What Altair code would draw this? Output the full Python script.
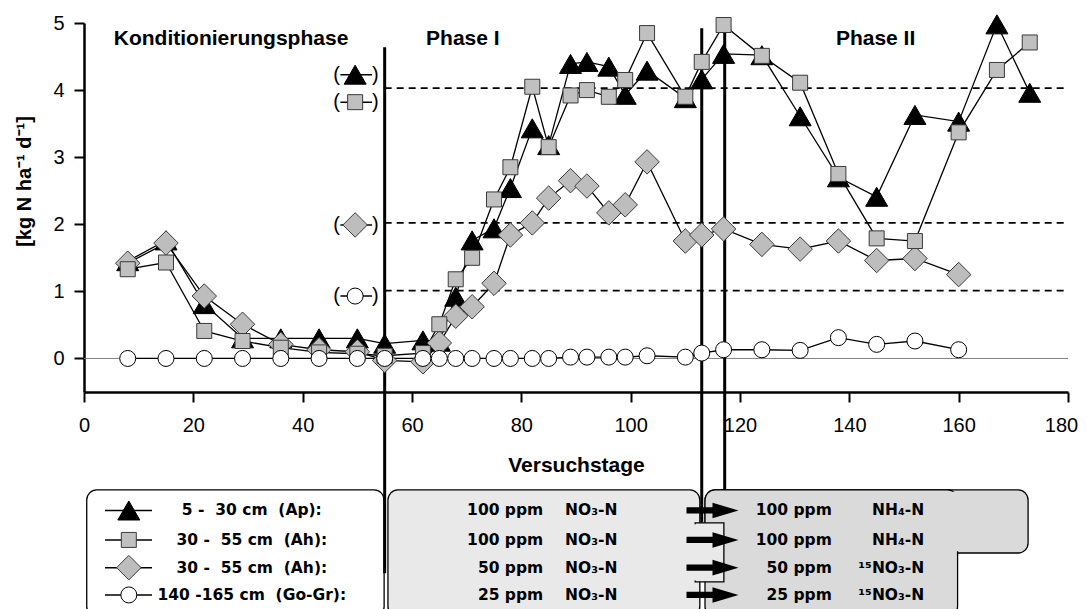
import altair as alt
import pandas as pd

# ---------------- data ----------------
days = [8, 15, 22, 29, 36, 43, 50, 55, 62, 65, 68, 71, 75, 78, 82, 85, 89, 92, 96, 99,
        103, 110, 113, 117, 124, 131, 138, 145, 152, 160, 167, 173]
ap_5_30 = [1.45, 1.76, 0.81, 0.30, 0.30, 0.30, 0.30, 0.22, 0.27, 0.25, 0.92, 1.76, 1.94, 2.54,
           3.43, 3.18, 4.39, 4.42, 4.35, 3.93, 4.29, 3.88, 4.16, 4.54, 4.52, 3.61, 2.70, 2.41,
           3.63, 3.53, 4.98, 3.96]
ah_30_55_100 = [1.33, 1.43, 0.41, 0.26, 0.16, 0.09, 0.07, 0.04, 0.08, 0.51, 1.18, 1.50, 2.37, 2.85,
                4.05, 3.15, 3.92, 4.00, 3.90, 4.15, 4.85, 3.90, 4.42, 4.97, 4.51, 4.11, 2.75, 1.79,
                1.75, 3.37, 4.30, 4.71]
ah_30_55_50 = [1.42, 1.72, 0.93, 0.51, 0.21, 0.13, 0.10, -0.03, -0.05, 0.23, 0.63, 0.77, 1.12, 1.84,
               2.02, 2.39, 2.65, 2.57, 2.17, 2.29, 2.93, 1.75, 1.84, 1.93, 1.70, 1.63, 1.75, 1.46,
               1.49, 1.25]
gogr_140_165 = [0, 0, 0, 0, 0, 0, 0, 0, 0, 0, 0, 0, 0, 0, 0, 0, 0.02, 0.02, 0.02, 0.02, 0.04, 0.02,
                0.08, 0.13, 0.13, 0.12, 0.31, 0.21, 0.26, 0.13]

series_labels = ["5 -\u00a0 30 cm\u00a0 (Ap):", "30 -\u00a0 55 cm\u00a0 (Ah):",
                 "30 -\u00a0 55 cm\u00a0 (Ah):", "140 -165 cm\u00a0 (Go-Gr):"]
phase1_ppm = ["100 ppm", "100 ppm", "50 ppm", "25 ppm"]
phase1_form = ["NO\u2083-N", "NO\u2083-N", "NO\u2083-N", "NO\u2083-N"]
phase2_ppm = ["100 ppm", "100 ppm", "50 ppm", "25 ppm"]
phase2_form = ["NH\u2084-N", "NH\u2084-N", "\u00b9\u2075NO\u2083-N", "\u00b9\u2075NO\u2083-N"]
phase_names = ["Konditionierungsphase", "Phase I", "Phase II"]
phase_change_days = [55, 113, 117.2]
target_levels = [4.03, 2.02, 1.01]
indicator_levels = [4.23, 3.82, 1.99, 0.93]

# ---------------- styles ----------------
styles = [
    dict(shape="triangle-up", size=484, fill="black", stroke="black"),
    dict(shape="square", size=225, fill="#c0c0c0", stroke="#3a3a3a"),
    dict(shape="diamond", size=600, fill="#bdbdbd", stroke="#3a3a3a"),
    dict(shape="circle", size=256, fill="white", stroke="black"),
]
series_values = [ap_5_30, ah_30_55_100, ah_30_55_50, gogr_140_165]

XS = alt.Scale(domain=[0, 180], nice=False, zero=False)
YS = alt.Scale(domain=[-0.5, 5], nice=False, zero=False)
AX = dict(grid=False, domainColor="black", domainWidth=2.5, tickColor="black", tickWidth=2,
          tickSize=10, labelFont="Liberation Sans", labelFontSize=20, labelColor="black",
          titleFont="Liberation Sans", titleFontWeight="bold", titleColor="black",
          labelOverlap=False, labelFlush=False)
XAX = alt.Axis(title="Versuchstage", values=list(range(0, 181, 20)), labelPadding=13,
               labelOffset={"condition": {"test": "datum.value == 180", "value": -7}, "value": 0},
               titleFontSize=21, titleBaseline="middle", titleY=73, **AX)
YAX = alt.Axis(title="[kg N ha\u207b\u00b9 d\u207b\u00b9]", values=[0, 1, 2, 3, 4, 5], labelPadding=10,
               titleFontSize=20, titleAngle=270, titleBaseline="middle", titleAlign="center",
               titleX=-60, titleY=158, **AX)


def X(f="day"):
    return alt.X(f + ":Q", scale=XS, axis=XAX)


def Y(f="val"):
    return alt.Y(f + ":Q", scale=YS, axis=YAX)


BOLD = dict(font="Liberation Sans", fontWeight="bold", fontSize=21, color="black")
BOX = dict(font="DejaVu Sans", fontWeight="bold", fontSize=15.5, color="black", baseline="middle")

layers = []

# bottom boxes (annotation geometry in data units)
box_rows = [-2.266, -2.705, -3.118, -3.525]
boxes = pd.DataFrame({
    "day": [0.5, 55.6], "day2": [54.9, 112.65], "val": [-1.96, -1.96], "val2": [-3.85, -3.85],
    "fill": ["white", "#e9e9e9"]})
layers.append(alt.Chart(boxes).mark_rect(stroke="black", strokeWidth=1.3, cornerRadius=10).encode(
    x=X(), x2="day2", y=Y(), y2="val2", fill=alt.Fill("fill:N", scale=None)))
box3 = pd.DataFrame({"day": [113.6, 113.6], "day2": [172.7, 159.8], "val": [-1.96, -1.96],
                     "val2": [-2.90, -3.85]})
layers.append(alt.Chart(box3).mark_rect(stroke="black", strokeWidth=1.3, cornerRadius=10,
                                        fill="#dadada").encode(x=X(), x2="day2", y=Y(), y2="val2"))
box3in = pd.DataFrame({"day": [113.85, 113.85], "day2": [172.45, 159.55], "val": [-1.985, -1.985],
                       "val2": [-2.875, -3.83]})
layers.append(alt.Chart(box3in).mark_rect(fill="#dadada", cornerRadius=9).encode(
    x=X(), x2="day2", y=Y(), y2="val2"))
notch = pd.DataFrame({"day": [111.8], "day2": [117.05], "val": [-2.45], "val2": [-3.33]})
layers.append(alt.Chart(notch).mark_rect(fill="#e9e9e9", stroke="black", strokeWidth=1.3).encode(
    x=X(), x2="day2", y=Y(), y2="val2"))
notchin = pd.DataFrame({"day": [110.9], "day2": [116.85], "val": [-2.472], "val2": [-3.308]})
layers.append(alt.Chart(notchin).mark_rect(fill="#e9e9e9").encode(
    x=X(), x2="day2", y=Y(), y2="val2"))

# baseline and target levels
base = pd.DataFrame({"day": [0], "day2": [180], "val": [0]})
layers.append(alt.Chart(base).mark_rule(color="#808080", strokeWidth=1).encode(x=X(), x2="day2", y=Y()))
dash = pd.DataFrame({"day": [55] * 3, "day2": [180] * 3, "val": target_levels})
layers.append(alt.Chart(dash).mark_rule(color="black", strokeWidth=1.7, strokeDash=[7, 5]).encode(
    x=X(), x2="day2", y=Y()))

# phase change lines
vl = pd.DataFrame({"day": phase_change_days, "val": [4.64, 4.92, 4.95], "val2": [-3.20, -2.45, -1.96]})
layers.append(alt.Chart(vl).mark_rule(color="black", strokeWidth=3).encode(x=X(), y=Y(), y2="val2"))

# series lines + points
for vals, st in zip(series_values, styles):
    df = pd.DataFrame({"day": days[:len(vals)], "val": vals})
    layers.append(alt.Chart(df).mark_line(color="black", strokeWidth=1.3).encode(x=X(), y=Y()))
for i in [0, 2, 1, 3]:
    vals, st = series_values[i], styles[i]
    df = pd.DataFrame({"day": days[:len(vals)], "val": vals})
    layers.append(alt.Chart(df).mark_point(shape=st["shape"], size=st["size"], filled=True,
                                           fill=st["fill"], stroke=st["stroke"], strokeWidth=1,
                                           opacity=1).encode(x=X(), y=Y()))

# in-plot indicators (-symbol-)
for lvl, st in zip(indicator_levels, styles):
    d = pd.DataFrame({"day": [46.9], "day2": [52.7], "val": [lvl]})
    layers.append(alt.Chart(d).mark_rule(color="black", strokeWidth=1.5).encode(x=X(), x2="day2", y=Y()))
    s = pd.DataFrame({"day": [49.6], "val": [lvl]})
    layers.append(alt.Chart(s).mark_point(shape=st["shape"], size=st["size"], filled=True,
                                          fill=st["fill"], stroke=st["stroke"], strokeWidth=1,
                                          opacity=1).encode(x=X(), y=Y()))
par = pd.DataFrame({"day": [46.2] * 4 + [53.3] * 4, "val": indicator_levels * 2,
                    "label": ["("] * 4 + [")"] * 4})
layers.append(alt.Chart(par).mark_text(font="Liberation Sans", fontSize=20, baseline="middle",
                                       color="black").encode(x=X(), y=Y(), text="label:N"))

# phase titles
ph = pd.DataFrame({"day": [26.9, 69.3, 144.8], "val": [4.76] * 3, "label": phase_names})
layers.append(alt.Chart(ph).mark_text(baseline="middle", **BOLD).encode(x=X(), y=Y(), text="label:N"))

# legend box contents
for st, r in zip(styles, box_rows):
    d = pd.DataFrame({"day": [3.84], "day2": [12.44], "val": [r]})
    layers.append(alt.Chart(d).mark_rule(color="black", strokeWidth=1.5).encode(x=X(), x2="day2", y=Y()))
    s = pd.DataFrame({"day": [8.2], "val": [r]})
    layers.append(alt.Chart(s).mark_point(shape=st["shape"], size=st["size"], filled=True,
                                          fill=st["fill"], stroke=st["stroke"], strokeWidth=1,
                                          opacity=1).encode(x=X(), y=Y()))
t1 = pd.DataFrame({"day": [30.7] * 4, "val": box_rows, "label": series_labels})
layers.append(alt.Chart(t1).mark_text(align="center", **BOX).encode(x=X(), y=Y(), text="label:N"))
t2 = pd.DataFrame({"day": [84.0] * 4, "val": box_rows, "label": phase1_ppm})
layers.append(alt.Chart(t2).mark_text(align="right", **BOX).encode(x=X(), y=Y(), text="label:N"))
t3 = pd.DataFrame({"day": [88.0] * 4, "val": box_rows, "label": phase1_form})
layers.append(alt.Chart(t3).mark_text(align="left", **BOX).encode(x=X(), y=Y(), text="label:N"))
t4 = pd.DataFrame({"day": [136.8] * 4, "val": box_rows, "label": phase2_ppm})
layers.append(alt.Chart(t4).mark_text(align="right", **BOX).encode(x=X(), y=Y(), text="label:N"))
t5 = pd.DataFrame({"day": [153.7] * 4, "val": box_rows, "label": phase2_form})
layers.append(alt.Chart(t5).mark_text(align="right", **BOX).encode(x=X(), y=Y(), text="label:N"))

# arrows
ar = pd.DataFrame({"day": [114.97] * 4, "val": box_rows})
layers.append(alt.Chart(ar).mark_point(shape="M-1,-0.12L0,-0.12L0,-0.3L1,0L0,0.3L0,0.12L-1,0.12Z",
                                       size=2704, filled=True, fill="black", strokeWidth=0,
                                       opacity=1).encode(x=X(), y=Y()))

chart = alt.layer(*layers).properties(
    width=984, height=369,
    autosize=alt.AutoSizeParams(type="none"),
    padding={"left": 76, "top": 15, "right": 11, "bottom": 225},
    background="white",
).configure_view(strokeWidth=0)

chart.save("out.html", embed_options={"renderer": "svg", "actions": False})
